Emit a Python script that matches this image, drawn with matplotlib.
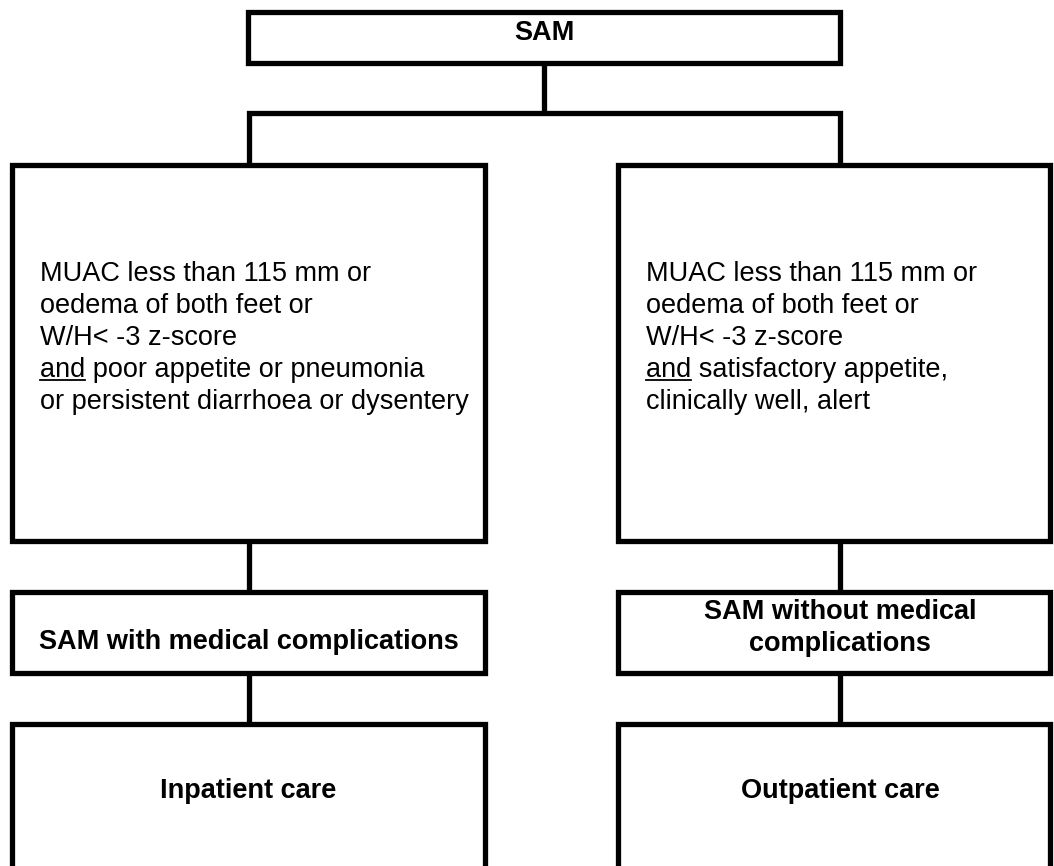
import matplotlib
matplotlib.use("Agg")
from matplotlib import pyplot as plt
from matplotlib.patches import Rectangle

plt.rcParams['font.family'] = ['Liberation Sans', 'DejaVu Sans']

# texts of the flowchart
top_label = "SAM"
left_criteria = ["MUAC less than 115 mm or",
                 "oedema of both feet or",
                 "W/H< -3 z-score",
                 "and poor appetite or pneumonia",
                 "or persistent diarrhoea or dysentery"]
right_criteria = ["MUAC less than 115 mm or",
                  "oedema of both feet or",
                  "W/H< -3 z-score",
                  "and satisfactory appetite,",
                  "clinically well, alert"]
left_class = ["SAM with medical complications"]
right_class = ["SAM without medical", "complications"]
left_care = "Inpatient care"
right_care = "Outpatient care"
underlined_word = "and"

LW = 3.8
FS = 19.5

fig = plt.figure(figsize=(10.54, 8.66), dpi=100)
ax = fig.add_axes([0, 0, 1, 1])
ax.set_xlim(0, 1054)
ax.set_ylim(866, 0)
ax.axis('off')


def box(x0, y0, x1, y1):
    ax.add_patch(Rectangle((x0, y0), x1 - x0, y1 - y0, fill=False,
                           edgecolor='black', linewidth=LW, joinstyle='miter'))


def line(xs, ys):
    ax.plot(xs, ys, color='black', linewidth=LW, solid_capstyle='butt',
            solid_joinstyle='miter')


# column geometry (pixels)
L = (12, 485)
R = (618, 1050)
cxL = (L[0] + L[1]) / 2
cxR = 840
cxT = (248 + cxR) / 2

# top box + branches
box(248, 12, cxR, 63)
ax.text(cxT, 40, top_label, ha='center', va='baseline',
        fontsize=FS, fontweight='bold')
line([cxT, cxT], [63, 113])
line([cxL, cxL, cxR, cxR], [165, 113, 113, 165])

# criteria boxes
box(L[0], 165, L[1], 541)
box(R[0], 165, R[1], 541)


def criteria(x, lines):
    y = 281
    for s in lines:
        ax.text(x, y, s, ha='left', va='baseline', fontsize=FS)
        if s.startswith(underlined_word + " "):
            tmp = ax.text(x, y, underlined_word, ha='left', va='baseline',
                          fontsize=FS, alpha=0)
            fig.canvas.draw()
            bb = tmp.get_window_extent().transformed(ax.transData.inverted())
            ax.plot([bb.x0, bb.x1], [y + 3, y + 3], color='black', linewidth=1.3)
        y += 32


criteria(L[0] + 28, left_criteria)
criteria(R[0] + 28, right_criteria)

# classification boxes
line([cxL, cxL], [541, 592])
line([cxR, cxR], [541, 592])
box(L[0], 592, L[1], 673)
box(R[0], 592, R[1], 673)
ax.text(cxL, 649, left_class[0], ha='center', va='baseline',
        fontsize=FS, fontweight='bold')
for i, s in enumerate(right_class):
    ax.text(cxR, 619 + 32 * i, s, ha='center', va='baseline',
            fontsize=FS, fontweight='bold')

# care boxes (bottom cut off by the page)
line([cxL, cxL], [673, 724])
line([cxR, cxR], [673, 724])
for x0, x1 in (L, R):
    line([x0, x0, x1, x1], [880, 724, 724, 880])
ax.text(cxL, 798, left_care, ha='center', va='baseline',
        fontsize=FS, fontweight='bold')
ax.text(cxR, 798, right_care, ha='center', va='baseline',
        fontsize=FS, fontweight='bold')

plt.savefig('out.png', dpi=100)
